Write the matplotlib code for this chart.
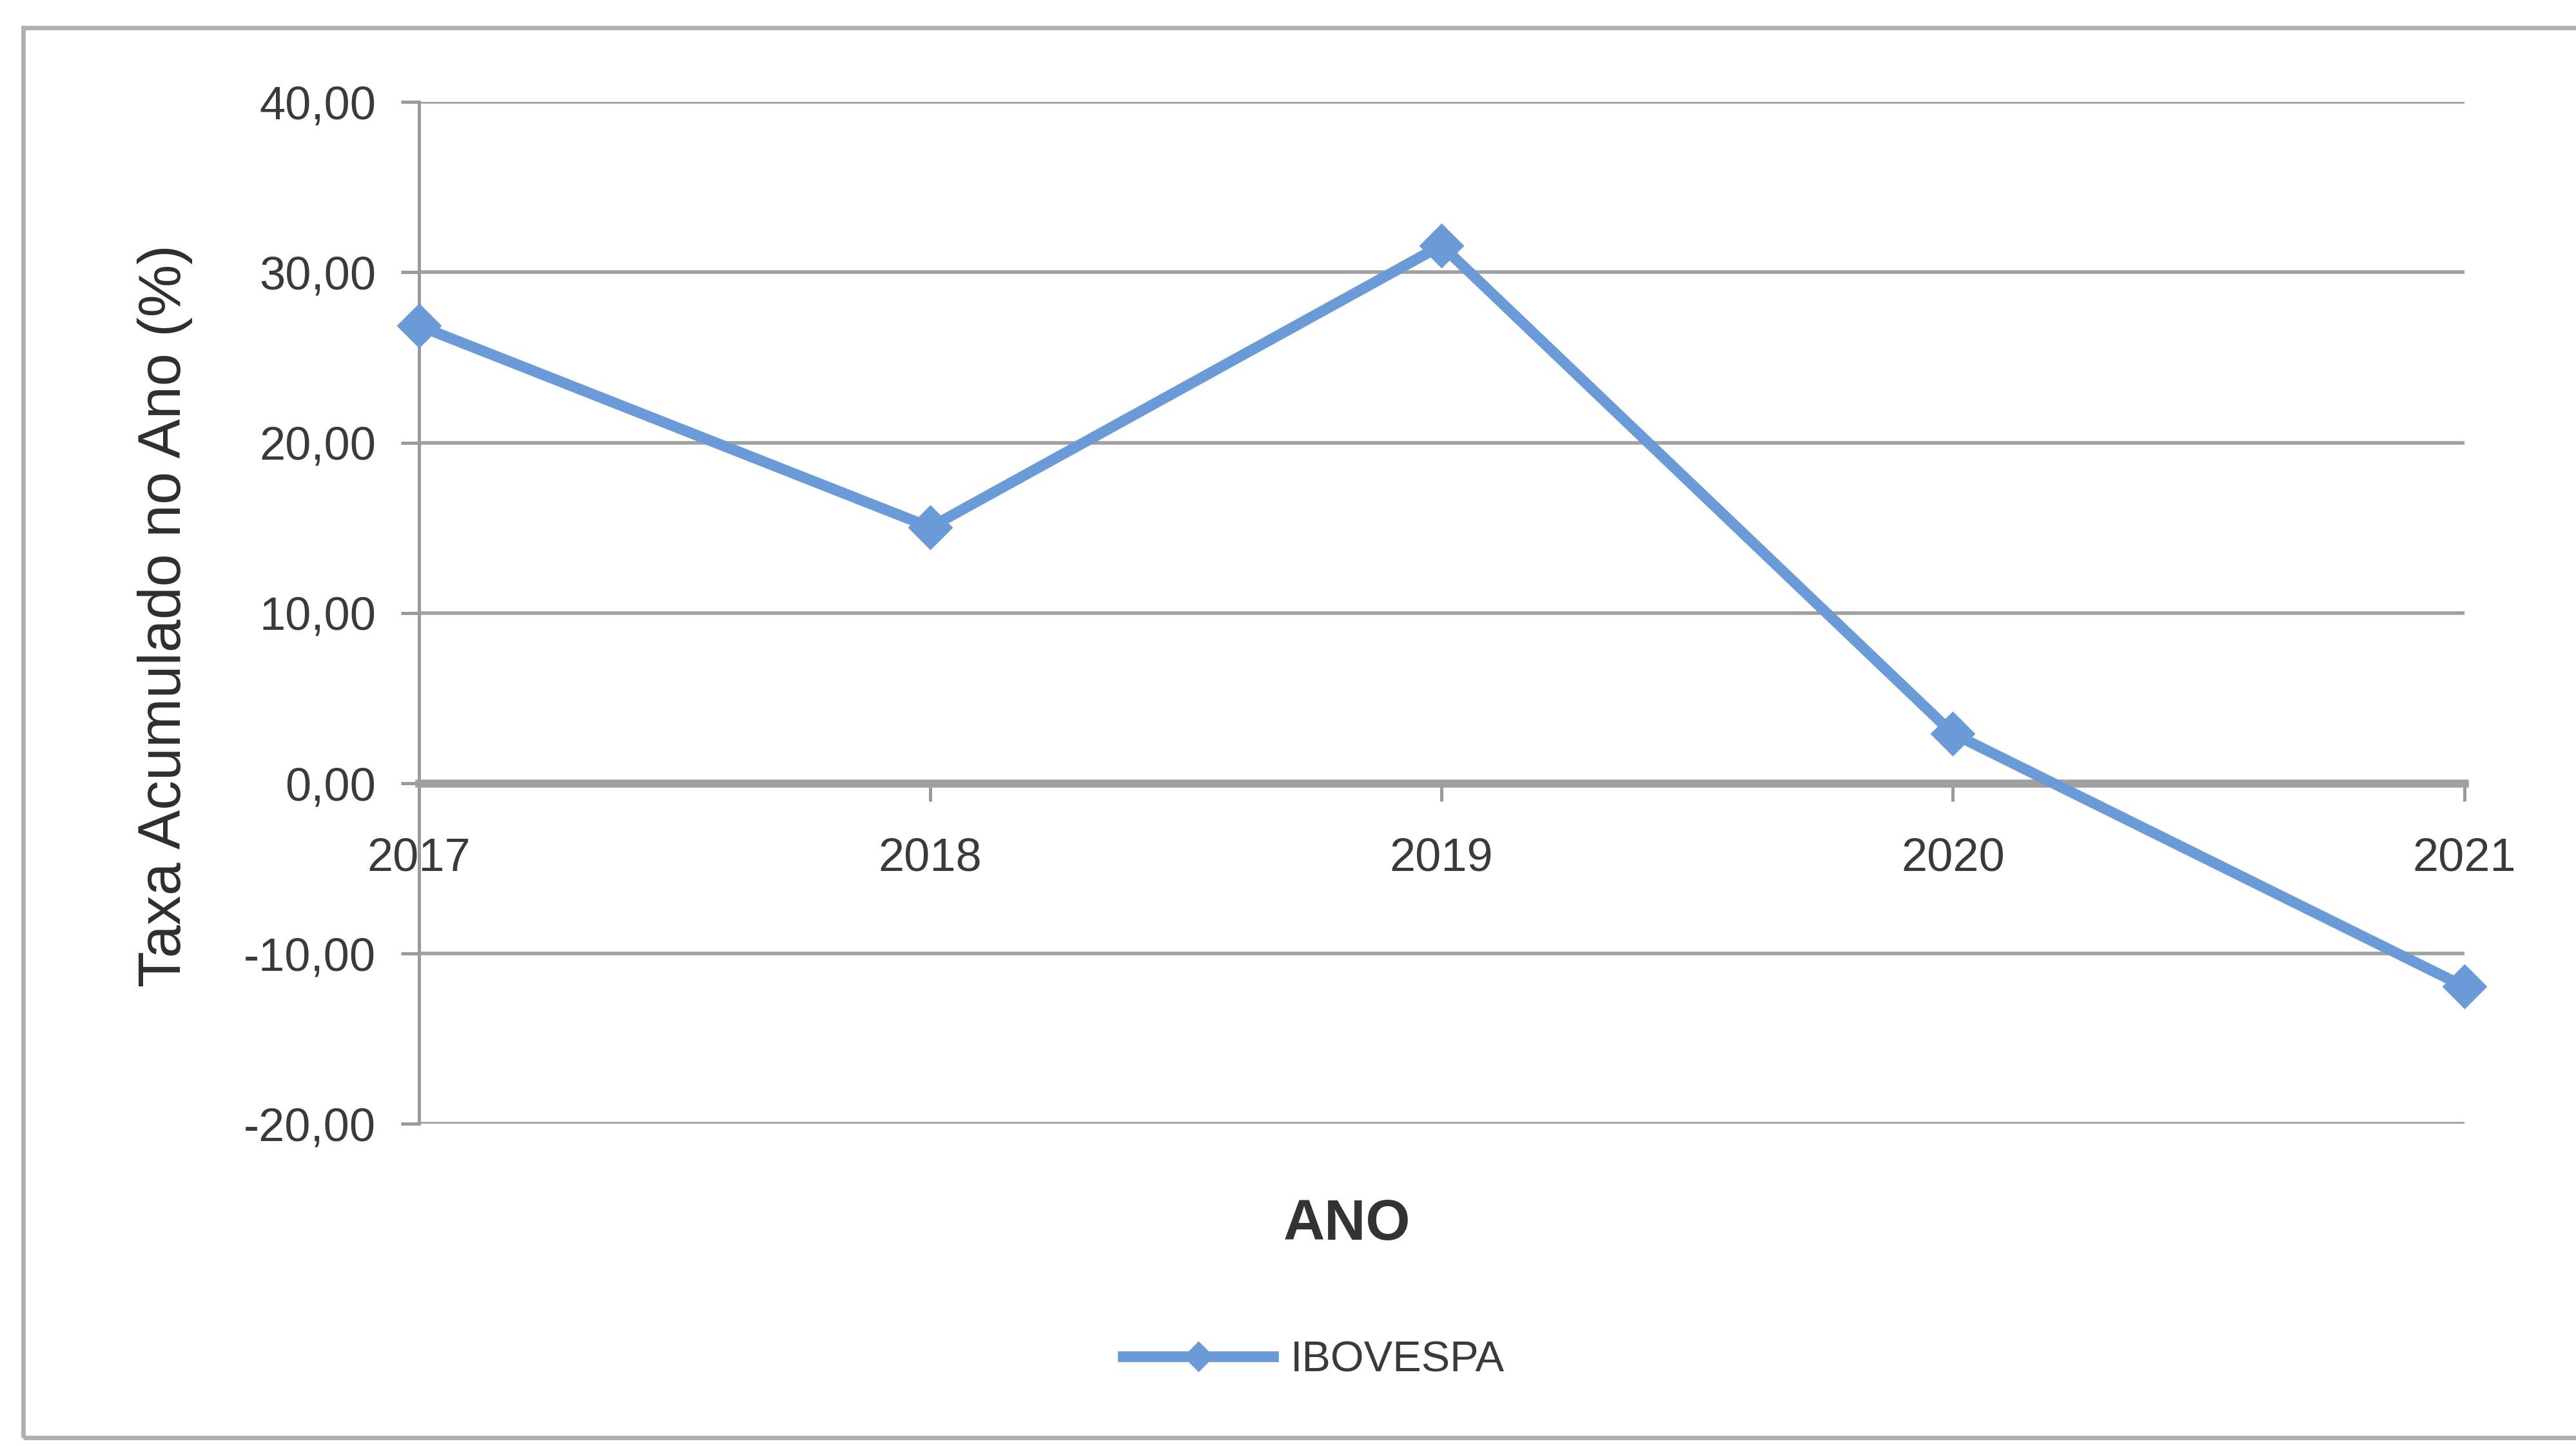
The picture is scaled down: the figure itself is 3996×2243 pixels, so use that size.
import matplotlib
matplotlib.use("Agg")
import matplotlib.pyplot as plt
from matplotlib.ticker import FuncFormatter, FixedLocator
from matplotlib.lines import Line2D
from matplotlib.patches import Rectangle

# dados
anos = ["2017", "2018", "2019", "2020", "2021"]
ibovespa = [26.86, 15.03, 31.58, 2.92, -11.93]
yticks = [-20, -10, 0, 10, 20, 30, 40]

plt.rcParams['font.family'] = ['Liberation Sans', 'DejaVu Sans']

azul = '#6a9bd8'
cinza = '#a0a0a0'
texto = '#3a3a3a'

fig = plt.figure(figsize=(19.98, 11.215), dpi=200)
ax = fig.add_axes([0.1626, 0.2227, 0.794, 0.7068])

x = list(range(len(anos)))
ax.plot(x, ibovespa, color=azul, lw=6, marker='D', ms=17,
        markerfacecolor=azul, markeredgecolor=azul, zorder=5, clip_on=False)

ax.set_xlim(0, len(anos) - 1)
ax.set_ylim(-20, 40)

ax.yaxis.set_major_locator(FixedLocator(yticks))
ax.yaxis.set_major_formatter(FuncFormatter(lambda v, p: f"{v:.2f}".replace('.', ',')))
ax.grid(axis='y', color=cinza, lw=2)
ax.set_axisbelow(True)

for s in ['top', 'right']:
    ax.spines[s].set_visible(False)
ax.spines['left'].set_color('#9a9a9a')
ax.spines['left'].set_linewidth(1.8)
ax.spines['bottom'].set_position(('data', 0))
ax.spines['bottom'].set_color('#a0a0a0')
ax.spines['bottom'].set_linewidth(4.5)
ax.spines['bottom'].set_zorder(3)

ax.set_xticks(x)
ax.set_xticklabels(anos)
ax.tick_params(axis='y', length=10, width=1.8, color='#9a9a9a', labelsize=26,
               labelcolor=texto, pad=14)
ax.tick_params(axis='x', length=10, width=1.8, color='#9a9a9a', labelsize=26,
               labelcolor=texto, pad=20)

fig.text(0.064, 0.574, "Taxa Acumulado no Ano (%)", rotation=90, ha='center',
         va='center', fontsize=33, color='#2e2e2e')
fig.text(0.523, 0.153, "ANO", ha='center', va='center', fontsize=32,
         fontweight='bold', color='#333333')

h = Line2D([], [], color=azul, lw=6, marker='D', ms=11)
fig.legend([h], ["IBOVESPA"], loc='center', bbox_to_anchor=(0.51, 0.059),
           frameon=False, fontsize=24, handlelength=3.5, handletextpad=0.4,
           labelcolor=texto)

fig.patches.append(Rectangle((0.009, 0.006), 1.2, 0.975, transform=fig.transFigure,
                             fill=False, edgecolor='#b0b0b0', lw=2.5))

fig.savefig("out.png", dpi=200, facecolor='white')
